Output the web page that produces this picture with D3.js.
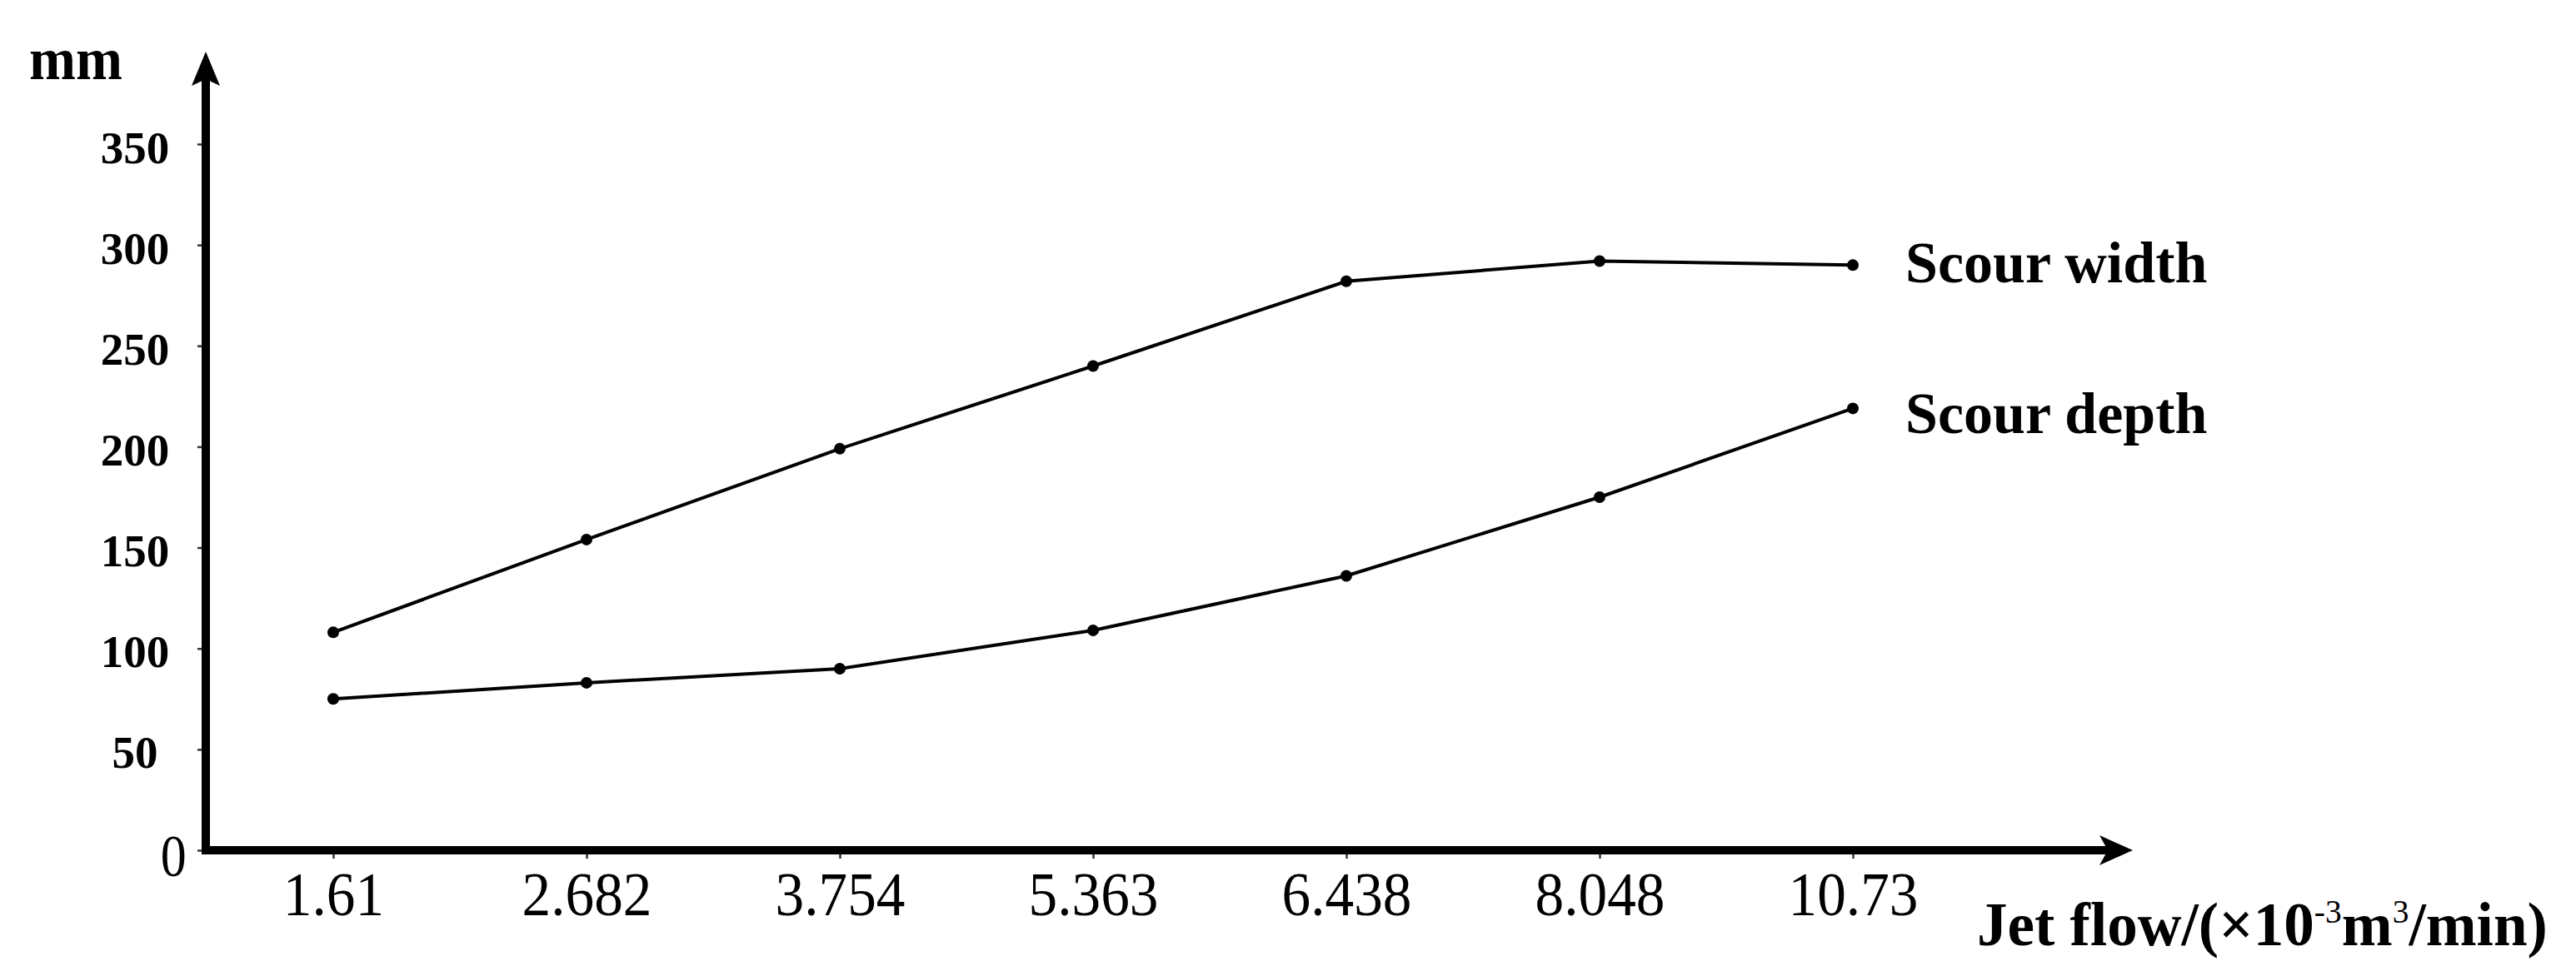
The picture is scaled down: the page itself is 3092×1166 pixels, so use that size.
<!DOCTYPE html>
<html>
<head>
<meta charset="utf-8">
<script src="https://cdn.jsdelivr.net/npm/d3@7"></script>
<style>
  html, body { margin: 0; padding: 0; background: #fff; }
  svg { display: block; }
  text { font-family: "Liberation Serif", "Times New Roman", serif; fill: #000; }
</style>
</head>
<body>
<svg id="chart" width="3092" height="1166"></svg>
<script>
// ---- data ----
const categories = ["1.61", "2.682", "3.754", "5.363", "6.438", "8.048", "10.73"];
const scourWidth = [108, 154, 199, 240, 282, 292, 290];
const scourDepth = [75, 83, 90, 109, 136, 175, 219];
const yTicks = [0, 50, 100, 150, 200, 250, 300, 350];
const seriesNames = ["Scour width", "Scour depth"];
const yUnit = "mm";

// ---- layout ----
const W = 3092, H = 1166;
const axisX = 247, axisY = 1021;
const svg = d3.select("#chart");
svg.append("rect").attr("width", W).attr("height", H).attr("fill", "#fff");

const x = d3.scalePoint().domain(categories).range([400, 2224]);
const y = d3.scaleLinear().domain([0, 350]).range([axisY, 173]);

function fitWidth(sel, x0, target) {
  const bb = sel.node().getBBox();
  const sx = target / bb.width;
  sel.attr("transform", `translate(${x0},0) scale(${sx},1) translate(${-x0},0)`);
}

// ---- y axis ticks ----
const gy = svg.append("g").attr("transform", `translate(${axisX},0)`)
  .call(d3.axisLeft(y).tickValues(yTicks).tickSize(10).tickPadding(0).tickFormat(d3.format("d")));
gy.select(".domain").remove();
gy.selectAll(".tick line").attr("stroke", "#333").attr("stroke-width", 2.5);
gy.selectAll(".tick text")
  .attr("x", -85).attr("dy", "0.4em")
  .attr("text-anchor", "middle")
  .style("font-family", "'Liberation Serif', serif")
  .style("font-weight", "bold").style("font-size", "55px");
gy.selectAll(".tick").filter(d => d === 0).select("text")
  .attr("x", -45).attr("dy", "0.42em")
  .style("font-weight", "normal").style("font-size", "72px")
  .attr("transform", "scale(0.86,1)");

// ---- x axis ticks ----
const gx = svg.append("g").attr("transform", `translate(0,${axisY})`)
  .call(d3.axisBottom(x).tickSize(10).tickPadding(0));
gx.select(".domain").remove();
gx.selectAll(".tick line").attr("stroke", "#333").attr("stroke-width", 2.5);
gx.selectAll(".tick text")
  .attr("y", 78).attr("dy", 0)
  .style("font-family", "'Liberation Serif', serif")
  .style("font-weight", "normal").style("font-size", "73px")
  .attr("transform", "scale(0.95,1)");

// ---- axis lines with arrows ----
svg.append("line").attr("x1", axisX).attr("y1", axisY + 5).attr("x2", axisX).attr("y2", 95)
  .attr("stroke", "#000").attr("stroke-width", 10);
svg.append("path")
  .attr("d", `M${axisX},62 L${axisX - 17},103 L${axisX},95 L${axisX + 17},103 Z`)
  .attr("fill", "#000");
svg.append("line").attr("x1", axisX - 5).attr("y1", axisY).attr("x2", 2530).attr("y2", axisY)
  .attr("stroke", "#000").attr("stroke-width", 10);
svg.append("path")
  .attr("d", `M2560,${axisY} L2520,${axisY - 18} L2530,${axisY} L2520,${axisY + 18} Z`)
  .attr("fill", "#000");

// ---- series ----
const line = d3.line().x((d, i) => x(categories[i])).y(d => y(d));
[scourWidth, scourDepth].forEach(vals => {
  svg.append("path").datum(vals).attr("d", line)
    .attr("fill", "none").attr("stroke", "#000").attr("stroke-width", 4);
  svg.append("g").selectAll("circle").data(vals).join("circle")
    .attr("cx", (d, i) => x(categories[i])).attr("cy", d => y(d)).attr("r", 7)
    .attr("fill", "#000");
});

// ---- series labels ----
svg.append("text").attr("x", 2287).attr("y", 339)
  .style("font-weight", "bold").style("font-size", "70px").text(seriesNames[0]);
svg.append("text").attr("x", 2287).attr("y", 520)
  .style("font-weight", "bold").style("font-size", "70px").text(seriesNames[1]);

// ---- unit label ----
const mm = svg.append("text").attr("x", 35).attr("y", 95)
  .style("font-weight", "bold").style("font-size", "72px").text(yUnit);
fitWidth(mm, 35, 112);

// ---- x axis title ----
const xt = svg.append("text").attr("x", 2373).attr("y", 1135)
  .style("font-weight", "bold").style("font-size", "74px");
xt.append("tspan").text("Jet flow/(×10");
xt.append("tspan").attr("dy", -27).style("font-size", "40px").style("font-weight", "normal").text("-3");
xt.append("tspan").attr("dy", 27).text("m");
xt.append("tspan").attr("dy", -27).style("font-size", "40px").style("font-weight", "normal").text("3");
xt.append("tspan").attr("dy", 27).text("/min)");
fitWidth(xt, 2373, 685);
</script>
</body>
</html>
